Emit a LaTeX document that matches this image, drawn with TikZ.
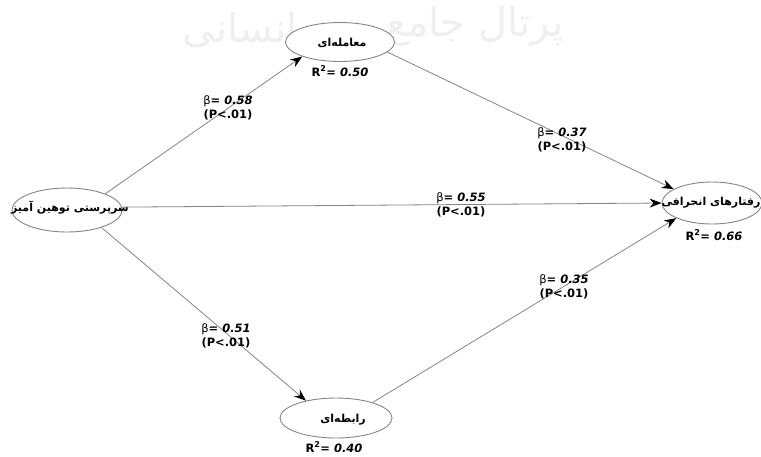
\documentclass[tikz,border=0pt]{standalone}
\usepackage{fontspec}
\setmainfont{DejaVu Sans}
\newfontfamily\fa[Script=Arabic]{DejaVu Sans}
\TeXXeTstate=1
\usetikzlibrary{arrows.meta,shapes.geometric}
\definecolor{edgegray}{HTML}{858585}
\definecolor{wm}{HTML}{EFEFEF}
\begin{document}
\begin{tikzpicture}[x=1pt,y=-1pt,
  var/.style={ellipse, draw=edgegray, fill=white, line width=0.9pt, inner sep=0pt},
  vartext/.style={inner sep=0pt, font=\fa\bfseries\fontsize{11}{12}\selectfont},
  lab/.style={inner sep=0pt, align=center, font=\bfseries\fontsize{11.5}{13.5}\selectfont},
  rsq/.style={inner sep=0pt, font=\bfseries\fontsize{11.5}{13}\selectfont},
  wmtext/.style={text=wm, inner sep=0pt, font=\fa\fontsize{40}{44}\selectfont},
  arr/.style={draw=edgegray, line width=0.8pt, -{Stealth[length=12pt,width=9pt,inset=4pt,color=black]}}
]
\useasboundingbox (0,0) rectangle (761,456);
\clip (0,0) rectangle (761,456);
\fill[white] (0,0) rectangle (761,456);
% watermark
\node[wmtext] (wm1) at (475,26) {\beginR پرتال جامع\endR};
\node[wmtext] (wm2) at (240,30) {\beginR انسانی\endR};

% variables
\node[var, minimum width=109pt, minimum height=39pt] (top) at (340,42) {};
\node[var, minimum width=110pt, minimum height=44pt] (left) at (67,210) {};
\node[var, minimum width=112pt, minimum height=40pt] (bot) at (336,418) {};
\node[var, minimum width=100pt, minimum height=42pt] (right) at (712,203) {};

\node[vartext] (toptext) at (342,43) {\beginR معامله‌ای\endR};
\node[vartext] (lefttext) at (70,208) {\beginR سرپرستی توهین آمیز\endR};
\node[vartext] (bottext) at (343,420) {\beginR رابطه‌ای\endR};
\node[vartext] (righttext) at (711,203) {\beginR رفتارهای انحرافی\endR};

% connectors
\draw[arr] (left.23) -- (top.201);
\draw[arr] (top.-12) -- (right.160);
\draw[arr] (left.3) -- (right.180);
\draw[arr] (left.-27) -- (bot.150);
\draw[arr] (bot.23) -- (right.203);

% path labels
\newcommand{\bet}[1]{{\mdseries β}= {\itshape #1}}
\node[lab] (l1) at (228,108) {\bet{0.58}\\(P<.01)};
\node[lab] (l2) at (562,140) {\bet{0.37}\\(P<.01)};
\node[lab] (l3) at (461,205) {\bet{0.55}\\(P<.01)};
\node[lab] (l4) at (226,336) {\bet{0.51}\\(P<.01)};
\node[lab] (l5) at (564,287) {\bet{0.35}\\(P<.01)};

% R squared
\node[rsq] (r1) at (340,71) {R\textsuperscript{2}= {\itshape 0.50}};
\node[rsq] (r2) at (714,235) {R\textsuperscript{2}= {\itshape 0.66}};
\node[rsq] (r3) at (334,447) {R\textsuperscript{2}= {\itshape 0.40}};
\end{tikzpicture}
\end{document}
